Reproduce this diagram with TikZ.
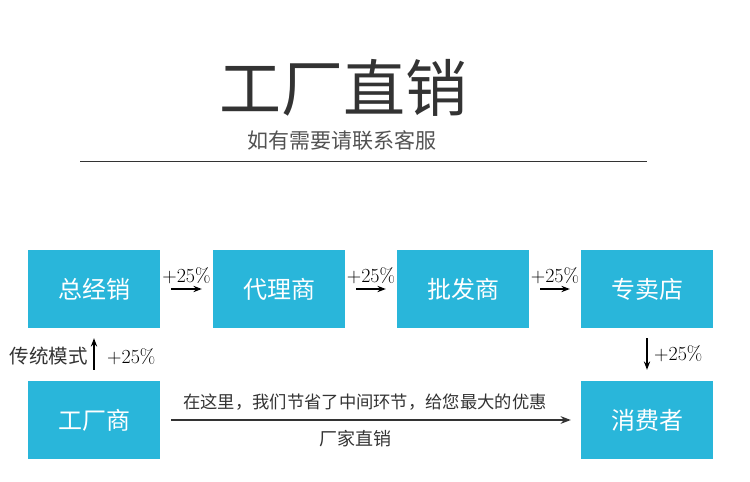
\documentclass[tikz,border=0pt]{standalone}
\usepackage{fontspec}
\newfontfamily\cjk{Noto Sans CJK SC}
\usetikzlibrary{arrows.meta,positioning,calc}
\definecolor{boxCyan}{HTML}{29B6DA}
\definecolor{inkGray}{HTML}{333333}

\begin{document}
\begin{tikzpicture}[x=1pt,y=-1pt, >=Stealth,
  chan/.style={rectangle,fill=boxCyan,minimum width=132pt,minimum height=78pt,inner sep=0pt,
    text=white,font=\cjk\fontsize{24}{24}\selectfont},
  pct/.style={font=\fontsize{20}{20}\selectfont,inner sep=0pt},
  note/.style={font=\cjk\fontsize{17.3}{17.3}\selectfont,text=inkGray,inner sep=0pt},
  flow/.style={line width=1.2pt,->}]
\useasboundingbox (0,0) rectangle (750,482);
% --- heading ---
\node[font=\cjk\fontsize{62}{62}\selectfont,text=inkGray] (title) at (343,88) {工厂直销};
\node[font=\cjk\fontsize{21}{21}\selectfont,text=inkGray!85] (sub) at (342,141) {如有需要请联系客服};
\coordinate (ruleL) at (80,161);
\coordinate (ruleR) at (647,161);
\draw[inkGray,thick] (ruleL) -- (ruleR);
% --- traditional chain ---
\node[chan] (zjx) at (94,289) {总经销};
\node[chan] (dls) at (279,289) {代理商};
\node[chan] (pfs) at (463,289) {批发商};
\node[chan] (zmd) at (647,289) {专卖店};
\node[chan] (gcs) at (94,420) {工厂商};
\node[chan] (xfz) at (647,420) {消费者};
\foreach \a/\b in {zjx/dls,dls/pfs,pfs/zmd}{
  \coordinate (s) at ([xshift=11pt]\a.east);
  \coordinate (t) at ([xshift=-11pt]\b.west);
  \draw[flow] (s) -- (t);
  \node[pct,above=5pt] at ($(s)!0.5!(t)$) {+25\%};
}
\draw[flow] ([yshift=-10pt]zmd.south) -- ([yshift=11pt]xfz.north);
\node[pct,anchor=west] at (654,354) {+25\%};
\draw[flow] ([yshift=11pt]gcs.north) -- ([yshift=-10pt]zjx.south);
\node[pct,anchor=west] at (107,357) {+25\%};
\node[note,anchor=east,font=\cjk\fontsize{19.5}{19.5}\selectfont] at (88,356) {传统模式};
% --- direct ---
\draw[inkGray,line width=1.6pt,->] ([xshift=11pt]gcs.east) -- ([xshift=-10pt]xfz.west)
  node[note,midway,above=9pt,xshift=-6pt] {在这里，我们节省了中间环节，给您最大的优惠}
  node[note,midway,below=9pt,xshift=-16pt,font=\cjk\fontsize{18}{18}\selectfont] {厂家直销};
\end{tikzpicture}
\end{document}
